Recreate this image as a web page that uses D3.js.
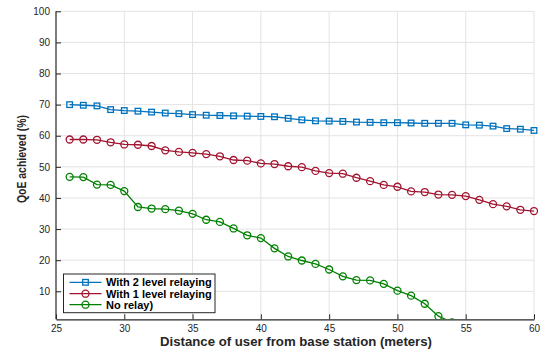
<!DOCTYPE html>
<html><head><meta charset="utf-8">
<script src="https://cdn.jsdelivr.net/npm/d3@7"></script>
<style>body{margin:0;background:#fff;} svg{display:block;}</style>
</head><body>
<svg id="chart" width="544" height="351"></svg>
<script>
const distances = d3.range(26, 61);
const twoLevel = [70.0,69.8,69.6,68.4,68.1,67.9,67.6,67.3,67.1,66.8,66.6,66.5,66.4,66.3,66.2,66.1,65.6,65.1,64.8,64.7,64.6,64.4,64.3,64.2,64.2,64.1,64.0,64.0,64.0,63.5,63.4,63.1,62.3,62.1,61.7];
const oneLevel = [58.8,58.8,58.7,57.9,57.2,57.1,56.7,55.3,54.8,54.5,54.1,53.4,52.2,52.0,51.1,50.9,50.2,49.9,48.7,48.0,47.8,46.5,45.4,44.2,43.6,42.1,41.9,41.1,41.0,40.6,39.4,38.0,37.3,36.2,35.8];
const noRelay = [46.8,46.7,44.3,44.2,42.2,37.1,36.6,36.4,35.9,34.9,33.0,32.3,30.2,28.0,27.1,23.8,21.2,19.9,18.8,17.0,14.8,13.6,13.5,12.4,10.2,8.6,6.0,2.0,0.0];
const xTicks = [25,30,35,40,45,50,55,60];
const yTicks = [10,20,30,40,50,60,70,80,90,100];
const seriesNames = ["With 2 level relaying","With 1 level relaying","No relay)"];
const seriesColors = ["#0072BD","#A2142F","#008000"];
const seriesMarkers = ["square","circle","circle"];

const svg = d3.select("#chart");
const L = 56, R = 534, T = 11.3, B = 319.3;
const x = d3.scaleLinear().domain([25,60]).range([L,R]);
const y = d3.scaleLinear().domain([1,100]).range([B,T]);
const tickColor = "#262626";
const font = "'Liberation Sans', Arial, Helvetica, sans-serif";

// grid
const g = svg.append("g");
g.selectAll(".vg").data(xTicks.filter(d=>d>25)).join("line")
  .attr("x1",d=>x(d)).attr("x2",d=>x(d)).attr("y1",T).attr("y2",B)
  .attr("stroke","#e3e3e3").attr("stroke-width",1);
g.selectAll(".hg").data(yTicks).join("line")
  .attr("x1",L).attr("x2",R).attr("y1",d=>y(d)).attr("y2",d=>y(d))
  .attr("stroke","#e3e3e3").attr("stroke-width",1);

// axes
const xAxis = svg.append("g").attr("transform",`translate(0,${B})`)
  .call(d3.axisBottom(x).tickValues(xTicks).tickSizeInner(-5).tickSizeOuter(0).tickPadding(6));
const yAxis = svg.append("g").attr("transform",`translate(${L},0)`)
  .call(d3.axisLeft(y).tickValues(yTicks).tickSizeInner(-5).tickSizeOuter(0).tickPadding(6));
[xAxis,yAxis].forEach(a=>{
  a.select(".domain").attr("stroke",tickColor).attr("stroke-width",1.2);
  a.selectAll(".tick line").attr("stroke",tickColor);
  a.selectAll("text").attr("fill",tickColor).attr("font-size",10).attr("font-family",font);
});
yAxis.select(".domain").attr("d",`M0,${B}V${T}`);

// clip
svg.append("clipPath").attr("id","clip").append("rect")
  .attr("x",L).attr("y",T-5).attr("width",R-L+5).attr("height",B-T+5);

const allSeries = [twoLevel, oneLevel, noRelay];
const line = d3.line().x((d)=>x(d[0])).y(d=>y(d[1]));
const plot = svg.append("g").attr("clip-path","url(#clip)");
allSeries.forEach((vals,i)=>{
  const pts = vals.map((v,j)=>[distances[j], v]);
  const col = seriesColors[i];
  plot.append("path").datum(pts).attr("d",line).attr("fill","none")
    .attr("stroke",col).attr("stroke-width",1.3);
  if (seriesMarkers[i]==="square") {
    plot.selectAll(null).data(pts).join("rect")
      .attr("x",d=>x(d[0])-2.8).attr("y",d=>y(d[1])-2.8).attr("width",5.6).attr("height",5.6)
      .attr("fill","none").attr("stroke",col).attr("stroke-width",1.3);
  } else {
    plot.selectAll(null).data(pts).join("circle")
      .attr("cx",d=>x(d[0])).attr("cy",d=>y(d[1])).attr("r",3.5)
      .attr("fill","none").attr("stroke",col).attr("stroke-width",1.3);
  }
});

// axis titles
svg.append("text").attr("x",(L+R)/2 + 1).attr("y",346).attr("text-anchor","middle")
  .attr("font-family",font).attr("font-weight","bold").attr("font-size",12.5).attr("fill","#262626")
  .attr("textLength",272).attr("lengthAdjust","spacingAndGlyphs")
  .text("Distance of user from base station (meters)");
svg.append("text").attr("transform",`translate(25.5,159) rotate(-90)`).attr("text-anchor","middle")
  .attr("font-family",font).attr("font-weight","bold").attr("font-size",12.5).attr("fill","#262626")
  .attr("textLength",88).attr("lengthAdjust","spacingAndGlyphs")
  .text("QoE achieved (%)");

// legend
const lg = svg.append("g");
lg.append("rect").attr("x",63.5).attr("y",274).attr("width",151.5).attr("height",38.7)
  .attr("fill","#fff").attr("stroke","#262626").attr("stroke-width",1);
const rows = [282.3, 293.7, 304.7];
seriesNames.forEach((name,i)=>{
  const col = seriesColors[i];
  lg.append("line").attr("x1",69.5).attr("x2",101.5).attr("y1",rows[i]).attr("y2",rows[i])
    .attr("stroke",col).attr("stroke-width",1.3);
  if (seriesMarkers[i]==="square") {
    lg.append("rect").attr("x",85.5-2.8).attr("y",rows[i]-2.8).attr("width",5.6).attr("height",5.6)
      .attr("fill","none").attr("stroke",col).attr("stroke-width",1.3);
  } else {
    lg.append("circle").attr("cx",85.5).attr("cy",rows[i]).attr("r",3.5)
      .attr("fill","none").attr("stroke",col).attr("stroke-width",1.3);
  }
  lg.append("text").attr("x",106).attr("y",rows[i]).attr("dy","0.35em")
    .attr("font-family",font).attr("font-weight","bold").attr("font-size",11).attr("fill","#000")
    .text(name);
});
</script>
</body></html>
